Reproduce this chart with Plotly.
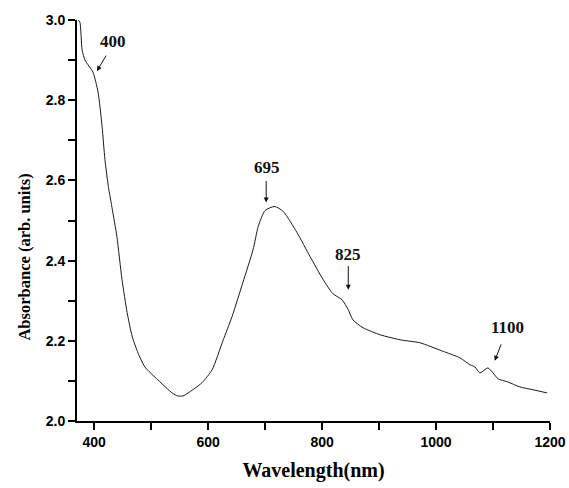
import plotly.graph_objects as go

# Absorbance spectrum data
wavelength = [372, 375, 379, 384, 391, 398, 407, 414, 419, 425, 432, 440, 449, 458,
              467, 477, 489, 512, 537, 547, 556, 565, 589, 607, 626, 642, 661, 679,
              688, 700, 717, 732, 756, 779, 802, 819, 835, 846, 854, 872, 902, 937,
              972, 1010, 1042, 1060, 1068, 1077, 1091, 1100, 1109, 1125, 1147, 1170, 1195]
absorbance = [3.0, 2.995, 2.925, 2.9, 2.885, 2.87, 2.82, 2.735, 2.6525, 2.585, 2.5275,
              2.46, 2.3525, 2.27, 2.21, 2.17, 2.135, 2.1025, 2.07, 2.0625, 2.0625, 2.07,
              2.095, 2.1275, 2.20, 2.26, 2.345, 2.4275, 2.485, 2.525, 2.535, 2.5225, 2.47,
              2.41, 2.3525, 2.3175, 2.3025, 2.2775, 2.2525, 2.2325, 2.215, 2.2025, 2.195,
              2.175, 2.1575, 2.14, 2.135, 2.12, 2.1325, 2.12, 2.105, 2.098, 2.085, 2.078, 2.07]

peak_labels = ["400", "695", "825", "1100"]
x_ticks = [400, 600, 800, 1000, 1200]
y_ticks = [2.0, 2.2, 2.4, 2.6, 2.8, 3.0]

fig = go.Figure()
fig.add_trace(go.Scatter(
    x=wavelength, y=absorbance, mode="lines",
    line=dict(color="#1a1a1a", width=1, shape="spline", smoothing=0.6),
    showlegend=False, hoverinfo="skip"))

serif = "Liberation Serif, Times New Roman, serif"
sans = "Liberation Sans, Arial, sans-serif"

# arrows: (head_x, head_y, ax, ay) and text positions
arrows = [(405, 2.8725, 10, -17), (702, 2.545, 0, -23), (846, 2.3275, 0, -25), (1103, 2.15, 7, -18)]
text_pos = [(433, 2.9475), (703.5, 2.6325), (845.6, 2.415), (1126, 2.2325)]
for (hx, hy, ax, ay), (tx, ty), lab in zip(arrows, text_pos, peak_labels):
    fig.add_annotation(x=hx, y=hy, ax=ax, ay=ay, text="", showarrow=True,
                       arrowhead=2, arrowsize=1, arrowwidth=1, arrowcolor="#111",
                       standoff=0, startstandoff=0)
    fig.add_annotation(x=tx, y=ty, text="<b>%s</b>" % lab, showarrow=False,
                       font=dict(family=serif, size=17, color="#111"))

# y-axis title as a rotated annotation
fig.add_annotation(x=-0.11, y=0.41, xref="paper", yref="paper",
                   xanchor="center", yanchor="middle",
                   text="<b>Absorbance (arb. units)</b>", textangle=-90, showarrow=False,
                   font=dict(family=serif, size=16.5, color="black"))

fig.update_layout(
    width=569, height=488,
    margin=dict(l=77, r=19, t=20, b=67),
    paper_bgcolor="white", plot_bgcolor="white",
    xaxis=dict(
        range=[370, 1200], tickvals=x_ticks, ticktext=[str(v) for v in x_ticks],
        automargin=False,
        showgrid=False, zeroline=False, showline=True, linecolor="black", linewidth=2,
        ticks="outside", ticklen=7, tickwidth=1.5, tickcolor="black",
        minor=dict(tickvals=[500, 700, 900, 1100], ticks="outside", ticklen=7,
                   tickwidth=1.5, tickcolor="black"),
        tickfont=dict(family=sans, size=14, color="black", weight="bold"),
        title=dict(text="<b>Wavelength(nm)</b>", font=dict(family=serif, size=20, color="black"),
                   standoff=14),
    ),
    yaxis=dict(
        range=[2.0, 3.0], tickvals=y_ticks, ticktext=["%.1f" % v for v in y_ticks],
        automargin=False,
        showgrid=False, zeroline=False, showline=True, linecolor="black", linewidth=2,
        ticks="outside", ticklen=7, tickwidth=1.5, tickcolor="black",
        minor=dict(tickvals=[2.1, 2.3, 2.5, 2.7, 2.9], ticks="outside", ticklen=7,
                   tickwidth=1.5, tickcolor="black"),
        tickfont=dict(family=sans, size=14, color="black", weight="bold"),
    ),
)

fig.write_html("out.html")
